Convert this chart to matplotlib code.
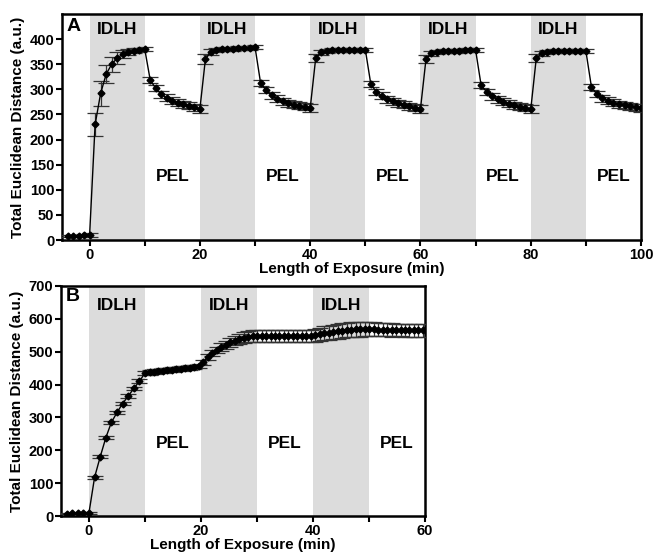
import numpy as np
import matplotlib
matplotlib.use('Agg')
import matplotlib.pyplot as plt
from matplotlib.ticker import MultipleLocator

plt.rcParams['font.family'] = ['Liberation Sans', 'DejaVu Sans']
plt.rcParams['font.weight'] = 'bold'

# ---- panel A: 5 cycles of IDLH / PEL, one point per minute ----
a_x = np.arange(-4, 101)
a_base = [7, 7, 8, 9, 10]
a_idlh = [
    [230, 292, 330, 350, 362, 370, 374, 377, 379, 380],
    [360, 375, 379, 380, 381, 381, 382, 382, 383, 384],
    [362, 374, 377, 378, 378, 379, 379, 379, 379, 379],
    [360, 372, 375, 376, 377, 377, 377, 378, 378, 378],
    [362, 372, 375, 376, 376, 376, 376, 376, 376, 376],
]
a_pel = [
    [318, 302, 290, 283, 277, 273, 270, 267, 264, 261],
    [313, 298, 288, 281, 276, 272, 269, 267, 265, 262],
    [310, 295, 287, 280, 276, 272, 269, 266, 263, 261],
    [308, 295, 286, 280, 275, 271, 268, 265, 263, 260],
    [305, 290, 282, 277, 273, 270, 268, 266, 264, 262],
]
a_base_err = [2, 2, 2, 3, 4]
a_idlh_err = [
    [22, 25, 18, 15, 12, 8, 6, 5, 4, 4],
    [10, 6, 4, 4, 4, 4, 4, 4, 4, 4],
    [8, 5, 4, 4, 4, 4, 4, 4, 4, 4],
    [8, 5, 4, 4, 4, 4, 4, 4, 4, 4],
    [8, 5, 4, 4, 4, 4, 4, 4, 4, 4],
]
a_pel_err = [6, 6, 7, 7, 7, 7, 7, 7, 7, 8]

a_y = list(a_base)
a_e = list(a_base_err)
for i in range(5):
    a_y += a_idlh[i] + a_pel[i]
    a_e += a_idlh_err[i] + a_pel_err

# ---- panel B: 3 cycles ----
b_x_early = np.arange(-4, 11)          # one per minute up to 10 min
b_y_early = [7, 8, 8, 10, 10, 118, 180, 238, 285, 315, 342, 365, 388, 410, 435]
b_e_early = [2, 2, 2, 3, 3, 5, 5, 5, 5, 5, 5, 6, 6, 6, 6]
b_x_late = 10 + 0.8 * np.arange(1, 63)  # denser sampling afterwards
b_y_late = ([437, 439, 441, 442, 444, 445, 447, 448, 450, 451, 453, 456] +
            [468, 484, 496, 505, 514, 521, 528, 534, 539, 543, 546, 548] +
            [548, 548, 548, 548, 548, 547, 547, 547, 547, 547, 548, 548, 548] +
            [550, 553, 556, 558, 560, 562, 564, 566, 567, 568, 568, 569] +
            [568, 568, 567, 567, 567, 566, 566, 566, 565, 565, 565, 565, 565])
b_e_late = ([7] * 12 +
            [7, 8, 9, 10, 11, 12, 13, 14, 15, 16, 17, 18] +
            [19] * 13 +
            [20, 20, 21, 21, 21, 22, 22, 22, 22, 22, 22, 22] +
            [21, 21, 20, 20, 20, 20, 19, 19, 19, 19, 19, 19, 19])
b_x = np.concatenate([b_x_early, b_x_late])
b_y = b_y_early + b_y_late
b_e = b_e_early + b_e_late

fig = plt.figure(figsize=(6.55, 5.53), dpi=100)
axA = fig.add_axes([0.0947, 0.566, 0.884, 0.4087])
axB = fig.add_axes([0.0931, 0.0669, 0.556, 0.416])

shade = '#dcdcdc'


def style(ax, xmax, ymax, ytop_tick, ystep):
    ax.set_xlim(-5, xmax)
    ax.set_ylim(0, ymax)
    ax.xaxis.set_major_locator(MultipleLocator(20))
    ax.xaxis.set_minor_locator(MultipleLocator(10))
    ax.set_yticks(np.arange(0, ytop_tick + 1, ystep))
    for s in ax.spines.values():
        s.set_linewidth(1.8)
    ax.tick_params(which='both', direction='out', width=1.5, length=4, pad=1.5, labelsize=10.5)
    ax.set_xlabel('Length of Exposure (min)', fontsize=11, fontweight='bold', labelpad=0)
    ax.set_ylabel('Total Euclidean Distance (a.u.)', fontsize=11, fontweight='bold', labelpad=3)
    for lab in ax.get_xticklabels() + ax.get_yticklabels():
        lab.set_fontweight('bold')


def plot_panel(ax, x, y, e, starts, idlh_y, pel_y, letter, letter_y, xmax):
    for s in starts:
        ax.axvspan(s, s + 10, color=shade, lw=0, zorder=0)
        ax.text(s + 5, idlh_y, 'IDLH', ha='center', va='center', fontsize=12.5, fontweight='bold')
        if s + 15 <= xmax:
            ax.text(s + 15, pel_y, 'PEL', ha='center', va='center', fontsize=12.5, fontweight='bold')
    ax.errorbar(x, y, yerr=e, color='black', ecolor='#333333', lw=1.0, elinewidth=0.9,
                capsize=5.5, capthick=0.9, marker='D', ms=3.5, mfc='black', mec='black', zorder=3)
    ax.text(-4.2, letter_y, letter, ha='left', va='center', fontsize=14, fontweight='bold')


plot_panel(axA, a_x, a_y, a_e, [0, 20, 40, 60, 80], 420, 126, 'A', 425, 100)
style(axA, 100, 450, 400, 50)

plot_panel(axB, b_x, b_y, b_e, [0, 20, 40], 640, 222, 'B', 668, 60)
style(axB, 60, 700, 700, 100)

fig.savefig('out.png', dpi=100, facecolor='white')
